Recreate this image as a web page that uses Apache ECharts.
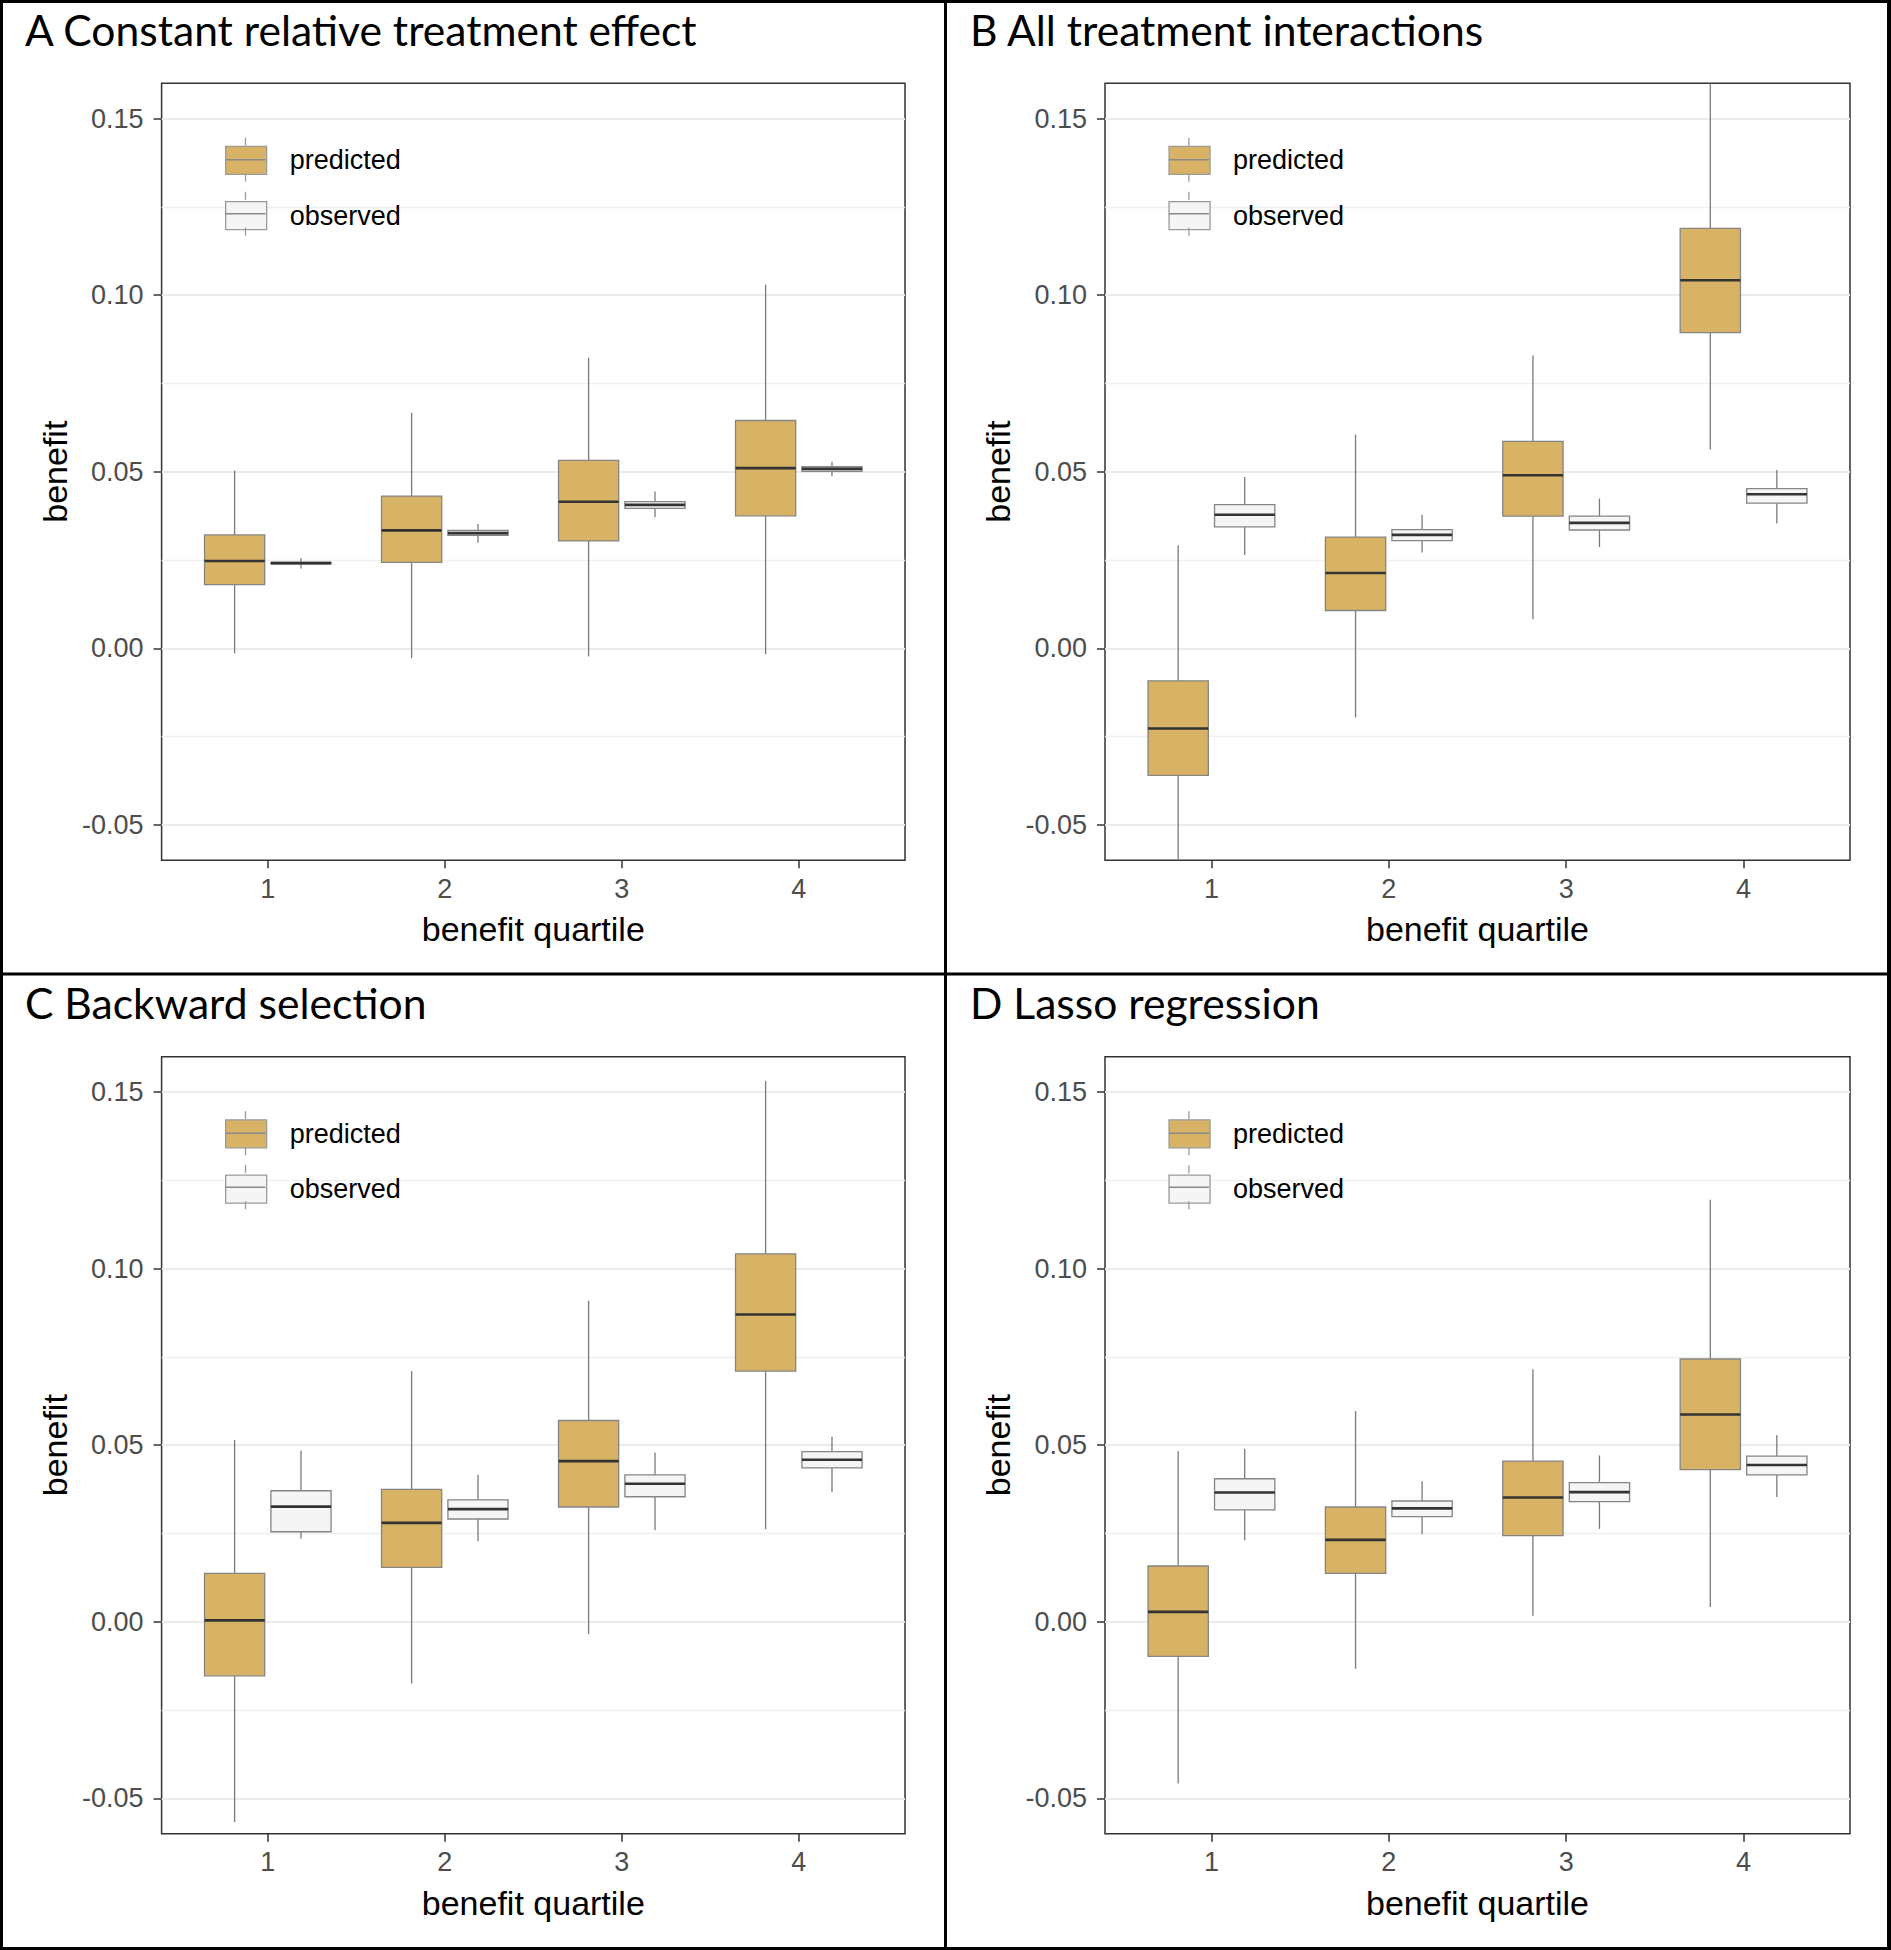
<!DOCTYPE html>
<html>
<head>
<meta charset="utf-8">
<script src="https://cdn.jsdelivr.net/npm/echarts@6/dist/echarts.min.js"></script>
<style>
html,body{margin:0;padding:0;background:#ffffff;}
#chart{width:1891px;height:1950px;}
</style>
</head>
<body>
<div id="chart"></div>
<script>
// ---------------- data ----------------
const quartiles = [1, 2, 3, 4];
const xTickLabels = ['1', '2', '3', '4'];
const yTicks = [-0.05, 0, 0.05, 0.10, 0.15];
const yMinorGrid = [-0.025, 0.025, 0.075, 0.125];
const groupNames = ['predicted', 'observed'];
const panelTitles = [
  'A Constant relative treatment effect',
  'B All treatment interactions',
  'C Backward selection',
  'D Lasso regression'
];
const xAxisTitle = 'benefit quartile';
const yAxisTitle = 'benefit';

// each row: [lower whisker, Q1, median, Q3, upper whisker] for quartile 1..4
const A_predicted = [
  [-0.0014, 0.0180, 0.0247, 0.0321, 0.0503],
  [-0.0028, 0.0243, 0.0334, 0.0431, 0.0667],
  [-0.0023, 0.0304, 0.0415, 0.0532, 0.0823],
  [-0.0017, 0.0375, 0.0510, 0.0645, 0.1030]
];
const A_observed = [
  [0.0226, 0.0239, 0.0241, 0.0243, 0.0256],
  [0.0299, 0.0320, 0.0326, 0.0334, 0.0352],
  [0.0371, 0.0396, 0.0406, 0.0415, 0.0444],
  [0.0487, 0.0501, 0.0508, 0.0514, 0.0528]
];
const B_predicted = [
  [-0.0660, -0.0360, -0.0227, -0.0092, 0.0292],
  [-0.0196, 0.0107, 0.0213, 0.0315, 0.0605],
  [0.0082, 0.0374, 0.0490, 0.0586, 0.0829],
  [0.0563, 0.0894, 0.1042, 0.1189, 0.1660]
];
const B_observed = [
  [0.0264, 0.0344, 0.0378, 0.0407, 0.0485],
  [0.0271, 0.0305, 0.0321, 0.0336, 0.0378],
  [0.0287, 0.0335, 0.0355, 0.0374, 0.0424],
  [0.0353, 0.0411, 0.0436, 0.0452, 0.0505]
];
const C_predicted = [
  [-0.0567, -0.0153, 0.0004, 0.0137, 0.0515],
  [-0.0175, 0.0154, 0.0280, 0.0375, 0.0710],
  [-0.0035, 0.0325, 0.0455, 0.0570, 0.0909],
  [0.0262, 0.0710, 0.0870, 0.1042, 0.1531]
];
const C_observed = [
  [0.0235, 0.0255, 0.0326, 0.0371, 0.0485],
  [0.0228, 0.0291, 0.0319, 0.0345, 0.0416],
  [0.0259, 0.0354, 0.0391, 0.0416, 0.0479],
  [0.0367, 0.0436, 0.0459, 0.0482, 0.0524]
];
const D_predicted = [
  [-0.0458, -0.0098, 0.0028, 0.0158, 0.0483],
  [-0.0133, 0.0137, 0.0232, 0.0325, 0.0597],
  [0.0017, 0.0244, 0.0352, 0.0455, 0.0715],
  [0.0042, 0.0431, 0.0587, 0.0744, 0.1195]
];
const D_observed = [
  [0.0231, 0.0317, 0.0366, 0.0405, 0.0490],
  [0.0248, 0.0298, 0.0321, 0.0342, 0.0398],
  [0.0263, 0.0340, 0.0367, 0.0394, 0.0471],
  [0.0353, 0.0416, 0.0444, 0.0469, 0.0529]
];

// ---------------- styling / layout ----------------
const panelData = [
  [A_predicted, A_observed],
  [B_predicted, B_observed],
  [C_predicted, C_observed],
  [D_predicted, D_observed]
];
const FILL = ['#D8B365', '#F5F5F5'];
const OUTLINE = '#858585';
const MEDIAN = '#333333';
const WHISKER = '#7a7a7a';
const DODGE = [-0.1875, 0.1875];
const BOX_HALF = 0.17;
const LABEL_FONT = 'Liberation Sans';
const TITLE_FONT = 'Lato';

const grids = [
  {left: 161.6, top: 83.2, width: 743.4, height: 777},
  {left: 1105, top: 83.2, width: 745, height: 777},
  {left: 161.6, top: 1056.7, width: 743.4, height: 777},
  {left: 1105, top: 1056.7, width: 745, height: 777}
];
const titlePos = [
  {left: 25, top: 7.5},
  {left: 970, top: 7.5},
  {left: 25, top: 981},
  {left: 970, top: 981}
];

function renderBox(params, api) {
  const x = api.value(0);
  const lo = api.value(1), q1 = api.value(2), med = api.value(3), q3 = api.value(4), hi = api.value(5);
  const tl = api.coord([x - BOX_HALF, q3]);
  const br = api.coord([x + BOX_HALF, q1]);
  const mL = api.coord([x - BOX_HALF, med]);
  const mR = api.coord([x + BOX_HALF, med]);
  const pLo = api.coord([x, lo]);
  const pHi = api.coord([x, hi]);
  const pQ1 = api.coord([x, q1]);
  const pQ3 = api.coord([x, q3]);
  const fill = api.visual('color');
  return {
    type: 'group',
    children: [
      {type: 'line', shape: {x1: pHi[0], y1: pHi[1], x2: pQ3[0], y2: pQ3[1]}, style: {stroke: WHISKER, lineWidth: 1.3}},
      {type: 'line', shape: {x1: pQ1[0], y1: pQ1[1], x2: pLo[0], y2: pLo[1]}, style: {stroke: WHISKER, lineWidth: 1.3}},
      {type: 'rect', shape: {x: tl[0], y: tl[1], width: br[0] - tl[0], height: br[1] - tl[1]}, style: {fill: fill, stroke: OUTLINE, lineWidth: 1.3}},
      {type: 'line', shape: {x1: mL[0], y1: mL[1], x2: mR[0], y2: mR[1]}, style: {stroke: MEDIAN, lineWidth: 2.6}}
    ]
  };
}

const option = {
  animation: false,
  backgroundColor: '#ffffff',
  title: [], grid: [], xAxis: [], yAxis: [], legend: [], series: [], graphic: []
};

panelTitles.forEach((t, i) => {
  option.title.push({
    text: t, left: titlePos[i].left, top: titlePos[i].top, padding: 0,
    textStyle: {fontFamily: TITLE_FONT, fontSize: 42.6, fontWeight: 'normal', color: '#000000'}
  });
});

grids.forEach((g, i) => {
  option.grid.push({
    left: g.left, top: g.top, width: g.width, height: g.height,
    show: true, borderColor: '#333333', borderWidth: 1.5, backgroundColor: '#ffffff'
  });
  option.xAxis.push({
    type: 'value', gridIndex: i, min: 0.4, max: 4.6, position: 'bottom',
    name: xAxisTitle, nameLocation: 'middle', nameGap: 52,
    nameTextStyle: {fontFamily: LABEL_FONT, fontSize: 34, color: '#000000'},
    axisLine: {show: false, onZero: false},
    axisTick: {show: true, length: 8, customValues: quartiles, lineStyle: {color: '#333333', width: 1.5}},
    axisLabel: {show: true, customValues: quartiles, margin: 15, fontFamily: LABEL_FONT, fontSize: 27, color: '#4D4D4D',
      formatter: v => xTickLabels[quartiles.indexOf(Math.round(v))] || ''},
    splitLine: {show: false}
  });
  option.yAxis.push({
    type: 'value', gridIndex: i, min: -0.06, max: 0.16, position: 'left',
    name: yAxisTitle, nameLocation: 'middle', nameGap: 90, nameRotate: 90,
    nameTextStyle: {fontFamily: LABEL_FONT, fontSize: 34, color: '#000000'},
    axisLine: {show: false, onZero: false},
    axisTick: {show: true, length: 8, customValues: yTicks, lineStyle: {color: '#333333', width: 1.5}},
    axisLabel: {show: true, customValues: yTicks, margin: 18, fontFamily: LABEL_FONT, fontSize: 27, color: '#4D4D4D',
      formatter: v => v.toFixed(2)},
    splitLine: {show: true, lineStyle: {color: '#EBEBEB', width: 2}}
  });
  option.yAxis.push({
    type: 'value', gridIndex: i, min: -0.06, max: 0.16, position: 'right',
    axisLine: {show: false, onZero: false},
    axisTick: {show: false, customValues: yMinorGrid},
    axisLabel: {show: false, customValues: yMinorGrid},
    splitLine: {show: true, lineStyle: {color: '#F0F0F0', width: 1.3}}
  });

  groupNames.forEach((name, k) => {
    const rows = panelData[i][k];
    option.series.push({
      type: 'custom', name: name,
      xAxisIndex: i, yAxisIndex: 2 * i,
      clip: true, z: 5,
      itemStyle: {color: FILL[k]},
      encode: {x: 0, y: [1, 2, 3, 4, 5]},
      renderItem: renderBox,
      data: rows.map((r, j) => [quartiles[j] + DODGE[k]].concat(r))
    });
  });

  // legend
  const lgLeft = g.left + 63.4;
  const lgTop = g.top + 62.5;
  option.legend.push({
    orient: 'vertical', left: lgLeft, top: lgTop, padding: 0,
    itemGap: 26, itemWidth: 41, itemHeight: 28, icon: 'rect', selectedMode: false,
    textStyle: {fontFamily: LABEL_FONT, fontSize: 27, color: '#000000', lineHeight: 28, padding: [0, 0, 0, 18]},
    data: groupNames.map((n, k) => ({name: n, itemStyle: {color: FILL[k], borderColor: '#9a9a9a', borderWidth: 1.3}}))
  });
  // whiskers + median inside legend keys
  groupNames.forEach((n, k) => {
    const top = lgTop + k * 54;
    const cx = lgLeft + 20.5;
    option.graphic.push(
      {type: 'line', z: 100, silent: true, shape: {x1: cx, y1: top - 8, x2: cx, y2: top}, style: {stroke: '#9a9a9a', lineWidth: 1.3}},
      {type: 'line', z: 100, silent: true, shape: {x1: cx, y1: top + 28, x2: cx, y2: top + 36}, style: {stroke: '#9a9a9a', lineWidth: 1.3}},
      {type: 'line', z: 100, silent: true, shape: {x1: lgLeft + 0.5, y1: top + 14, x2: lgLeft + 40.5, y2: top + 14}, style: {stroke: '#8a8a8a', lineWidth: 1.6}}
    );
  });
});

// outer frame and dividers
const frameStyle = {fill: '#000000'};
option.graphic.push(
  {type: 'rect', z: 200, silent: true, shape: {x: 0, y: 0, width: 1891, height: 3}, style: frameStyle},
  {type: 'rect', z: 200, silent: true, shape: {x: 0, y: 1947, width: 1891, height: 3}, style: frameStyle},
  {type: 'rect', z: 200, silent: true, shape: {x: 0, y: 0, width: 3, height: 1950}, style: frameStyle},
  {type: 'rect', z: 200, silent: true, shape: {x: 1887, y: 0, width: 4, height: 1950}, style: frameStyle},
  {type: 'rect', z: 200, silent: true, shape: {x: 944, y: 0, width: 3, height: 1950}, style: frameStyle},
  {type: 'rect', z: 200, silent: true, shape: {x: 0, y: 972.5, width: 1891, height: 3}, style: frameStyle}
);

const chart = echarts.init(document.getElementById('chart'), null, {renderer: 'svg'});
chart.setOption(option);
</script>
</body>
</html>
